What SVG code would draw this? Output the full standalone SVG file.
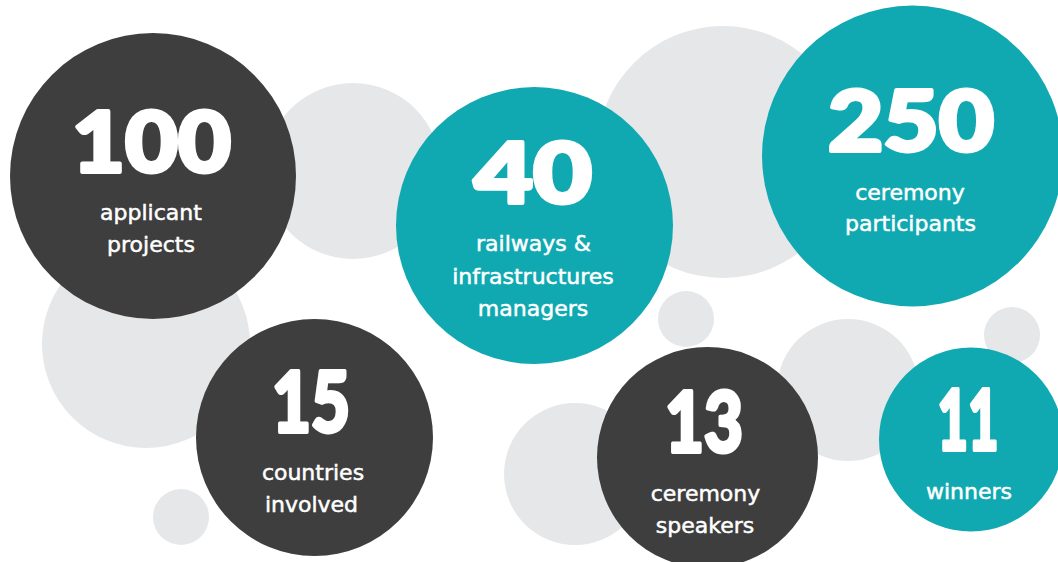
<svg xmlns="http://www.w3.org/2000/svg" width="1058" height="562" viewBox="0 0 1058 562">
<style>
.bg{fill:#e6e7e8}
.dk{fill:#3e3e3e}
.tl{fill:#11a9b1}
.num{font-family:Lato,"DejaVu Sans",sans-serif;font-weight:900;font-size:84px;fill:#fff;stroke:#fff;stroke-width:4;stroke-linejoin:round;text-anchor:middle}
.lbl{font-family:"DejaVu Sans","Liberation Sans",sans-serif;font-size:22px;fill:#fff;stroke:#fff;stroke-width:0.5;text-anchor:middle}
</style>
<rect width="1058" height="562" fill="#fff"/>
<g id="background">
<circle class="bg" cx="353" cy="171" r="88"/>
<circle class="bg" cx="146" cy="344" r="104"/>
<circle class="bg" cx="723" cy="152" r="126"/>
<circle class="bg" cx="686" cy="319" r="28"/>
<circle class="bg" cx="848" cy="390" r="71"/>
<circle class="bg" cx="1012" cy="335" r="28"/>
<circle class="bg" cx="575" cy="474" r="71"/>
<circle class="bg" cx="181" cy="517" r="28"/>
</g>
<g id="n100">
<circle class="dk" cx="153" cy="176" r="143"/>
<text class="num" x="151.5" y="171.5" textLength="159" lengthAdjust="spacingAndGlyphs">100</text>
<text class="lbl" x="151" y="219.5">applicant</text>
<text class="lbl" x="151" y="251.5">projects</text>
</g>
<g id="n40">
<circle class="tl" cx="534.5" cy="225.5" r="138.5"/>
<text class="num" x="533" y="202.5" textLength="118" lengthAdjust="spacingAndGlyphs">40</text>
<text class="lbl" x="533.5" y="250.5">railways &amp;</text>
<text class="lbl" x="533" y="283.5">infrastructures</text>
<text class="lbl" x="533" y="316">managers</text>
</g>
<g id="n250">
<circle class="tl" cx="912.5" cy="156" r="150.5"/>
<text class="num" x="911" y="150.5" textLength="166" lengthAdjust="spacingAndGlyphs">250</text>
<text class="lbl" x="910" y="199.5">ceremony</text>
<text class="lbl" x="910.5" y="231">participants</text>
</g>
<g id="n15">
<circle class="dk" cx="314.5" cy="437.5" r="118.5"/>
<text class="num" x="311" y="432" textLength="78" lengthAdjust="spacingAndGlyphs">15</text>
<text class="lbl" x="313" y="480">countries</text>
<text class="lbl" x="311.5" y="511.5">involved</text>
</g>
<g id="n13">
<circle class="dk" cx="707.5" cy="457.5" r="110.5"/>
<text class="num" x="704" y="452" textLength="78" lengthAdjust="spacingAndGlyphs">13</text>
<text class="lbl" x="705.5" y="500.5">ceremony</text>
<text class="lbl" x="705" y="532.5">speakers</text>
</g>
<g id="n11">
<circle class="tl" cx="971" cy="439.5" r="92"/>
<text class="num" x="968" y="450" textLength="61" lengthAdjust="spacingAndGlyphs">11</text>
<text class="lbl" x="969" y="498.5">winners</text>
</g>
<g id="connectors"/>
</svg>
